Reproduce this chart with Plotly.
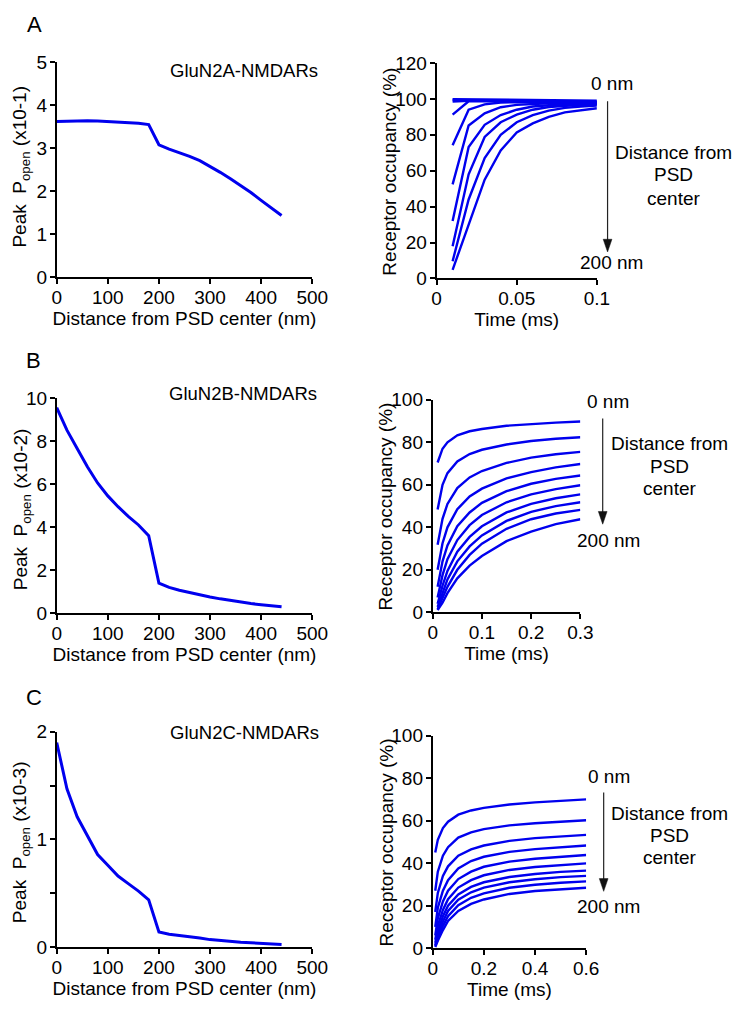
import plotly.graph_objects as go

# page body has an 8px default margin; the figure is sized so the page fits the window exactly
PAGE_W, PAGE_H, BODY = 753, 1020, 8
W, H = PAGE_W - 2 * BODY, PAGE_H - 2 * BODY
BLUE = "#0000EE"
FONT = "Arial, Liberation Sans, sans-serif"

# ---------------- data ----------------
distance_nm = [0, 20, 40, 60, 80, 100, 120, 140, 160, 180, 200, 220,
               240, 260, 280, 300, 320, 340, 360, 380, 400, 420, 440]
popen_2A = [3.62, 3.63, 3.64, 3.64, 3.63, 3.62, 3.61, 3.60, 3.58, 3.55, 3.08, 2.98,
            2.90, 2.81, 2.71, 2.58, 2.44, 2.29, 2.14, 1.97, 1.79, 1.62, 1.44]
popen_2B = [9.55, 8.50, 7.65, 6.80, 6.05, 5.45, 4.95, 4.50, 4.10, 3.60, 1.40, 1.20,
            1.07, 0.96, 0.86, 0.76, 0.67, 0.59, 0.52, 0.45, 0.40, 0.35, 0.30]
popen_2C = [1.90, 1.47, 1.21, 1.03, 0.86, 0.76, 0.66, 0.59, 0.52, 0.44, 0.14, 0.12,
            0.11, 0.10, 0.085, 0.07, 0.06, 0.05, 0.045, 0.04, 0.035, 0.03, 0.025]

time_A = [0.01, 0.02, 0.03, 0.04, 0.05, 0.06, 0.07, 0.08, 0.09, 0.10]
occ_A = [
    [99.9, 99.8, 99.7, 99.6, 99.5, 99.4, 99.3, 99.2, 99.1, 99.0],
    [99.4, 99.3, 99.2, 99.1, 99.0, 98.9, 98.8, 98.7, 98.6, 98.5],
    [98.6, 99.0, 98.9, 98.8, 98.7, 98.6, 98.5, 98.4, 98.3, 98.2],
    [91.3, 98.7, 98.8, 98.7, 98.6, 98.5, 98.4, 98.3, 98.2, 98.1],
    [74.2, 94.0, 97.0, 98.0, 98.2, 98.2, 98.1, 98.0, 97.9, 97.8],
    [52.4, 85.2, 92.0, 95.4, 96.7, 97.3, 97.6, 97.7, 97.6, 97.5],
    [32.0, 73.2, 85.6, 91.0, 94.0, 95.8, 96.5, 96.9, 97.1, 97.2],
    [17.9, 58.0, 78.8, 87.0, 91.3, 94.0, 95.5, 96.2, 96.7, 97.0],
    [9.6, 44.0, 67.0, 80.0, 87.0, 91.0, 93.5, 95.0, 95.8, 96.3],
    [4.8, 30.0, 55.0, 71.3, 81.3, 86.4, 90.0, 92.5, 93.8, 94.8],
]

time_B = [0.01, 0.02, 0.03, 0.05, 0.075, 0.1, 0.15, 0.2, 0.25, 0.3]
occ_B = [
    [70.5, 77.0, 80.0, 83.3, 85.2, 86.3, 87.8, 88.7, 89.3, 89.8],
    [48.4, 60.0, 65.5, 71.0, 74.5, 76.5, 79.0, 80.6, 81.7, 82.4],
    [31.8, 44.0, 51.0, 58.5, 63.5, 66.5, 70.3, 72.8, 74.4, 75.5],
    [20.0, 32.5, 40.0, 48.5, 54.5, 58.2, 63.0, 66.0, 68.2, 69.8],
    [12.0, 24.0, 31.5, 40.5, 47.0, 51.5, 57.0, 60.5, 62.8, 64.4],
    [7.0, 17.5, 25.0, 34.0, 41.0, 45.8, 51.8, 55.5, 58.0, 59.8],
    [4.0, 12.5, 19.5, 28.5, 35.5, 40.5, 47.0, 51.0, 53.7, 55.5],
    [2.5, 9.0, 15.5, 24.0, 31.0, 36.2, 43.0, 47.3, 50.0, 51.8],
    [1.5, 6.5, 12.0, 20.0, 27.0, 32.3, 39.3, 43.8, 46.5, 48.2],
    [1.0, 4.5, 9.0, 16.0, 22.0, 26.5, 33.5, 38.0, 41.5, 43.8],
]

time_C = [0.01, 0.02, 0.04, 0.06, 0.1, 0.15, 0.2, 0.3, 0.4, 0.5, 0.6]
occ_C = [
    [45.0, 51.0, 56.5, 59.5, 62.8, 64.8, 66.0, 67.6, 68.6, 69.4, 70.0],
    [27.0, 36.0, 43.5, 47.5, 52.0, 54.5, 56.0, 57.8, 58.8, 59.6, 60.2],
    [17.0, 26.0, 34.0, 38.5, 43.5, 46.5, 48.3, 50.5, 51.8, 52.7, 53.3],
    [10.0, 19.0, 27.0, 32.0, 37.5, 41.0, 43.0, 45.3, 46.6, 47.6, 48.3],
    [6.0, 14.0, 22.0, 27.0, 32.5, 36.0, 38.3, 40.7, 42.1, 43.1, 43.8],
    [4.0, 10.5, 18.0, 23.0, 28.5, 32.0, 34.3, 36.8, 38.2, 39.2, 39.9],
    [2.5, 8.0, 15.0, 20.0, 25.3, 28.8, 31.0, 33.5, 34.9, 35.9, 36.5],
    [1.5, 6.0, 12.5, 17.5, 22.8, 26.3, 28.5, 31.0, 32.4, 33.4, 34.0],
    [1.0, 4.5, 10.5, 15.0, 20.2, 23.7, 25.8, 28.4, 29.8, 30.8, 31.4],
    [0.5, 3.5, 8.5, 12.8, 17.5, 20.8, 22.9, 25.5, 26.9, 27.8, 28.4],
]

panel_letters = ["A", "B", "C"]
receptor_names = ["GluN2A-NMDARs", "GluN2B-NMDARs", "GluN2C-NMDARs"]
left_ytitles = ["Peak  P<sub>open</sub> (x10-1)", "Peak  P<sub>open</sub> (x10-2)",
                "Peak  P<sub>open</sub> (x10-3)"]

# ---------------- layout helpers (page pixels -> paper) ----------------
def px_x(x):
    return (x - BODY) / W

def px_y(y):
    return 1 - (y - BODY) / H

# pixel boxes in page coordinates (left, right, top, bottom)
boxes = {
    1: (53, 316, 53, 273),
    2: (444, 609, 54, 274),
    3: (53, 316, 396, 616),
    4: (440, 592, 398, 615),
    5: (53, 316, 737, 957),
    6: (440, 598, 741, 958),
}

fig = go.Figure()

left_data = [popen_2A, popen_2B, popen_2C]
for i, ys in enumerate(left_data):
    n = 2 * i + 1
    fig.add_trace(go.Scatter(x=distance_nm, y=ys, mode="lines",
                             line=dict(color=BLUE, width=3),
                             xaxis=f"x{n}", yaxis=f"y{n}", showlegend=False,
                             cliponaxis=False))

right_sets = [(time_A, occ_A), (time_B, occ_B), (time_C, occ_C)]
for i, (ts, curves) in enumerate(right_sets):
    n = 2 * i + 2
    for c in curves:
        fig.add_trace(go.Scatter(x=ts, y=c, mode="lines",
                                 line=dict(color=BLUE, width=2.4),
                                 xaxis=f"x{n}", yaxis=f"y{n}", showlegend=False,
                                 cliponaxis=False))

TICK_SIZE = 19
TEXT_SIZE = 19

axis_common = dict(showline=True, linecolor="black", linewidth=1.8,
                   ticks="outside", ticklen=5, tickwidth=1.5, tickcolor="black",
                   showgrid=False, zeroline=False,
                   tickfont=dict(family=FONT, size=TICK_SIZE, color="black"))

layout = dict(width=W, height=H, margin=dict(l=0, r=0, t=0, b=0),
              paper_bgcolor="white", plot_bgcolor="white", showlegend=False,
              font=dict(family=FONT, color="black"))

x_ranges = {1: [0, 500], 3: [0, 500], 5: [0, 500],
            2: [0, 0.1], 4: [0, 0.3], 6: [0, 0.6]}
x_ticks = {
    1: ([0, 100, 200, 300, 400, 500], ["0", "100", "200", "300", "400", "500"]),
    3: ([0, 100, 200, 300, 400, 500], ["0", "100", "200", "300", "400", "500"]),
    5: ([0, 100, 200, 300, 400, 500], ["0", "100", "200", "300", "400", "500"]),
    2: ([0, 0.05, 0.1], ["0", "0.05", "0.1"]),
    4: ([0, 0.1, 0.2, 0.3], ["0", "0.1", "0.2", "0.3"]),
    6: ([0, 0.2, 0.4, 0.6], ["0", "0.2", "0.4", "0.6"]),
}
y_ranges = {1: [0, 5], 3: [0, 10], 5: [0, 2], 2: [0, 120], 4: [0, 100], 6: [0, 100]}
y_ticks = {
    1: ([0, 1, 2, 3, 4, 5], ["0", "1", "2", "3", "4", "5"]),
    3: ([0, 2, 4, 6, 8, 10], ["0", "2", "4", "6", "8", "10"]),
    5: ([0, 1, 2], ["0", "1", "2"]),
    2: ([0, 20, 40, 60, 80, 100, 120], ["0", "20", "40", "60", "80", "100", "120"]),
    4: ([0, 20, 40, 60, 80, 100], ["0", "20", "40", "60", "80", "100"]),
    6: ([0, 20, 40, 60, 80, 100], ["0", "20", "40", "60", "80", "100"]),
}

for n, (l, r, t, b) in boxes.items():
    xname = "xaxis" if n == 1 else f"xaxis{n}"
    yname = "yaxis" if n == 1 else f"yaxis{n}"
    xt = "Distance from PSD center (nm)" if n % 2 == 1 else "Time (ms)"
    layout[xname] = dict(axis_common, domain=[px_x(l), px_x(r)], anchor=f"y{n}",
                         range=x_ranges[n], tickvals=x_ticks[n][0], ticktext=x_ticks[n][1],
                         ticklabelstandoff=-3,
                         title=dict(text=xt, font=dict(family=FONT, size=TEXT_SIZE), standoff=4))
    layout[yname] = dict(axis_common, domain=[px_y(b), px_y(t)], anchor=f"x{n}",
                         range=y_ranges[n], tickvals=y_ticks[n][0], ticktext=y_ticks[n][1],
                         ticklabelstandoff=-1)
# panel C left has unlabelled half-unit ticks
layout["yaxis5"]["minor"] = dict(tickmode="array", tickvals=[0.5, 1.5], ticks="outside",
                                 ticklen=5, tickwidth=1.5, tickcolor="black", showgrid=False)

annotations = []
left_title_pos = [(16, 160), (17, 510), (17, 850)]
for i in range(3):
    x, y = left_title_pos[i]
    annotations.append(dict(x=px_x(x), y=px_y(y), xref="paper", yref="paper",
                            text=left_ytitles[i], textangle=-90, showarrow=False,
                            font=dict(family=FONT, size=TEXT_SIZE), xanchor="center",
                            yanchor="middle"))
right_title_pos = [(396, 165), (392, 507), (392, 850)]
for x, y in right_title_pos:
    annotations.append(dict(x=px_x(x), y=px_y(y), xref="paper", yref="paper",
                            text="Receptor occupancy (%)", textangle=-90, showarrow=False,
                            font=dict(family=FONT, size=TEXT_SIZE), xanchor="center",
                            yanchor="middle"))

letter_pos = [(30, 15), (29, 358), (30, 702)]
name_pos = [(246, 62), (245, 392), (246, 738)]
for i in range(3):
    annotations.append(dict(x=px_x(letter_pos[i][0]), y=px_y(letter_pos[i][1]), xref="paper",
                            yref="paper", text=panel_letters[i], showarrow=False,
                            font=dict(family=FONT, size=22), xanchor="center", yanchor="middle"))
    annotations.append(dict(x=px_x(name_pos[i][0]), y=px_y(name_pos[i][1]), xref="paper",
                            yref="paper", text=receptor_names[i], showarrow=False,
                            font=dict(family=FONT, size=18.5), xanchor="center",
                            yanchor="middle"))

shapes = []
arrow_specs = [
    (620, 93, 247, (625, 75), (624, 258), 688, (145, 168, 192)),
    (615, 417, 525, (620, 400), (621, 542), 684, (443, 466, 489)),
    (616, 799, 900, (621, 783), (621, 915), 684, (820, 843, 865)),
]
for ax_x, yt, yb, p0, p200, lx, lys in arrow_specs:
    head_h, head_w = 13, 4.5
    shapes.append(dict(type="line", xref="paper", yref="paper",
                       x0=px_x(ax_x), x1=px_x(ax_x), y0=px_y(yt), y1=px_y(yb - head_h + 1),
                       line=dict(color="#222222", width=1.2)))
    path = (f"M {px_x(ax_x - head_w)} {px_y(yb - head_h)} "
            f"L {px_x(ax_x + head_w)} {px_y(yb - head_h)} "
            f"L {px_x(ax_x)} {px_y(yb)} Z")
    shapes.append(dict(type="path", xref="paper", yref="paper", path=path,
                       fillcolor="#111111", line=dict(color="#111111", width=0.5)))
    annotations.append(dict(x=px_x(p0[0]), y=px_y(p0[1]), xref="paper", yref="paper",
                            text="0 nm", showarrow=False, font=dict(family=FONT, size=TEXT_SIZE),
                            xanchor="center", yanchor="middle"))
    annotations.append(dict(x=px_x(p200[0]), y=px_y(p200[1]), xref="paper", yref="paper",
                            text="200 nm", showarrow=False,
                            font=dict(family=FONT, size=TEXT_SIZE),
                            xanchor="center", yanchor="middle"))
    for txt, ly in zip(["Distance from", "PSD", "center"], lys):
        annotations.append(dict(x=px_x(lx), y=px_y(ly), xref="paper", yref="paper",
                                text=txt, showarrow=False,
                                font=dict(family=FONT, size=TEXT_SIZE),
                                xanchor="center", yanchor="middle"))

layout["annotations"] = annotations
layout["shapes"] = shapes
fig.update_layout(**layout)

fig.write_html("out.html", config={"displayModeBar": False})
